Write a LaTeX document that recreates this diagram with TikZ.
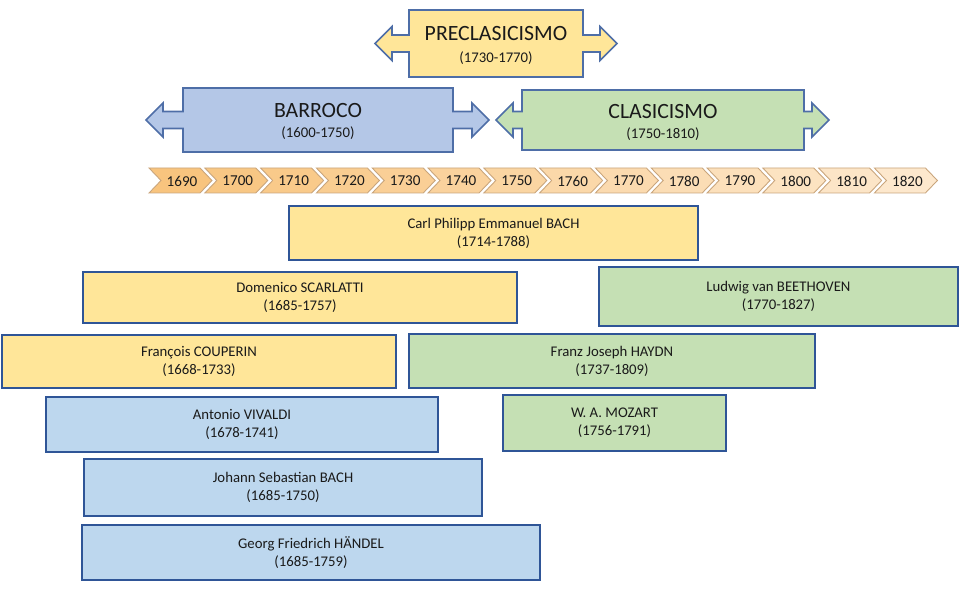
\documentclass[tikz,border=0pt]{standalone}
\usepackage{fontspec}
\setmainfont{Carlito}
\definecolor{amarillo}{HTML}{FFE699}
\definecolor{azulclaro}{HTML}{BDD7EE}
\definecolor{azulgris}{HTML}{B4C7E7}
\definecolor{verde}{HTML}{C5E0B4}
\definecolor{bordeazul}{HTML}{2F5597}
\definecolor{naranja}{HTML}{F8C47E}
\definecolor{naranjaclaro}{HTML}{FDE9CF}
\definecolor{bordenaranja}{HTML}{C9A57C}
\definecolor{texto}{HTML}{1A1A1A}
% double arrow: (left tip:body left:body right:right tip)(top:bottom)
\def\epoca[#1](#2:#3:#4:#5)(#6:#7){\draw[#1] (#3,#6) -- (#4,#6) -- (#4,{(#6+#7)/2-8.5}) -- ({#5-17},{(#6+#7)/2-8.5}) -- ({#5-17},{(#6+#7)/2-17}) -- (#5,{(#6+#7)/2}) -- ({#5-17},{(#6+#7)/2+17}) -- ({#5-17},{(#6+#7)/2+8.5}) -- (#4,{(#6+#7)/2+8.5}) -- (#4,#7) -- (#3,#7) -- (#3,{(#6+#7)/2+8.5}) -- ({#2+17},{(#6+#7)/2+8.5}) -- ({#2+17},{(#6+#7)/2+17}) -- (#2,{(#6+#7)/2}) -- ({#2+17},{(#6+#7)/2-17}) -- ({#2+17},{(#6+#7)/2-8.5}) -- (#3,{(#6+#7)/2-8.5}) -- cycle;}

\begin{document}
\begin{tikzpicture}[x=0.02cm, y=-0.02cm,
	flecha/.style={draw=bordeazul!85!white, line width=0.9pt, line join=miter},
	titulo/.style={text=texto, font=\fontsize{12.4}{14}\selectfont, inner sep=0pt},
	fechas/.style={text=texto, font=\fontsize{8.4}{10}\selectfont, inner sep=0pt},
	chevron/.style={draw=bordenaranja, line width=0.5pt},
	anio/.style={text=texto, font=\fontsize{8.6}{10}\selectfont, inner sep=0pt},
	persona/.style={draw=bordeazul, line width=1.5pt, align=center, text=texto, font=\fontsize{8.4}{10.2}\selectfont, inner sep=0pt}]
			%%%%% START %%%%%
			\useasboundingbox (0,0) rectangle (960,591);
			
			% periods
			\epoca[flecha, fill=amarillo](375:409:583:617)(10:77)
			\node[titulo] (preclasicismo) at (496,34) {PRECLASICISMO};
			\node[fechas] (preclasicismofechas) at (496,58) {(1730-1770)};
			
			\epoca[flecha, fill=azulgris](146:183:453:489)(88:152)
			\node[titulo] (barroco) at (318,111) {BARROCO};
			\node[fechas] (barrocofechas) at (318,133) {(1600-1750)};
			
			\epoca[flecha, fill=verde](496:522:804:829)(90:150)
			\node[titulo] (clasicismo) at (663,112) {CLASICISMO};
			\node[fechas] (clasicismofechas) at (663,134) {(1750-1810)};
			
			% timeline
			\foreach \anio [count=\i from 0] in {1690,1700,...,1820} {
				\pgfmathsetmacro\xa{149+55.8*\i}
				\pgfmathtruncatemacro\tono{100-\i*7.5}
				\draw[chevron, fill=naranja!\tono!naranjaclaro] (\xa,168) -- ({\xa+51},168) -- ({\xa+63},180.5) -- ({\xa+51},193) -- (\xa,193) -- ({\xa+12},180.5) -- cycle;
				\node[anio] (a\anio) at ({\xa+33},181) {\anio};
			}
			
			% composers
			\node[persona, fill=amarillo, minimum width=8.18cm, minimum height=1.08cm] (cpebach) at (493.5,233) {Carl Philipp Emmanuel BACH\\(1714-1788)};
			\node[persona, fill=amarillo, minimum width=8.68cm, minimum height=1.02cm] (scarlatti) at (300,297.5) {Domenico SCARLATTI\\(1685-1757)};
			\node[persona, fill=verde, minimum width=7.18cm, minimum height=1.18cm] (beethoven) at (778.5,296.5) {Ludwig van BEETHOVEN\\(1770-1827)};
			\node[persona, fill=amarillo, minimum width=7.88cm, minimum height=1.06cm] (couperin) at (199,361.5) {François COUPERIN\\(1668-1733)};
			\node[persona, fill=verde, minimum width=8.12cm, minimum height=1.08cm] (haydn) at (612,361) {Franz Joseph HAYDN\\(1737-1809)};
			\node[persona, fill=azulclaro, minimum width=7.84cm, minimum height=1.1cm] (vivaldi) at (242,424.5) {Antonio VIVALDI\\(1678-1741)};
			\node[persona, fill=verde, minimum width=4.46cm, minimum height=1.12cm] (mozart) at (614.5,423) {W. A. MOZART\\(1756-1791)};
			\node[persona, fill=azulclaro, minimum width=7.96cm, minimum height=1.14cm] (jsbach) at (283,487.5) {Johann Sebastian BACH\\(1685-1750)};
			\node[persona, fill=azulclaro, minimum width=9.16cm, minimum height=1.1cm] (handel) at (311,552.5) {Georg Friedrich HÄNDEL\\(1685-1759)};
			
			%%%%% END %%%%%
\end{tikzpicture}
\end{document}
